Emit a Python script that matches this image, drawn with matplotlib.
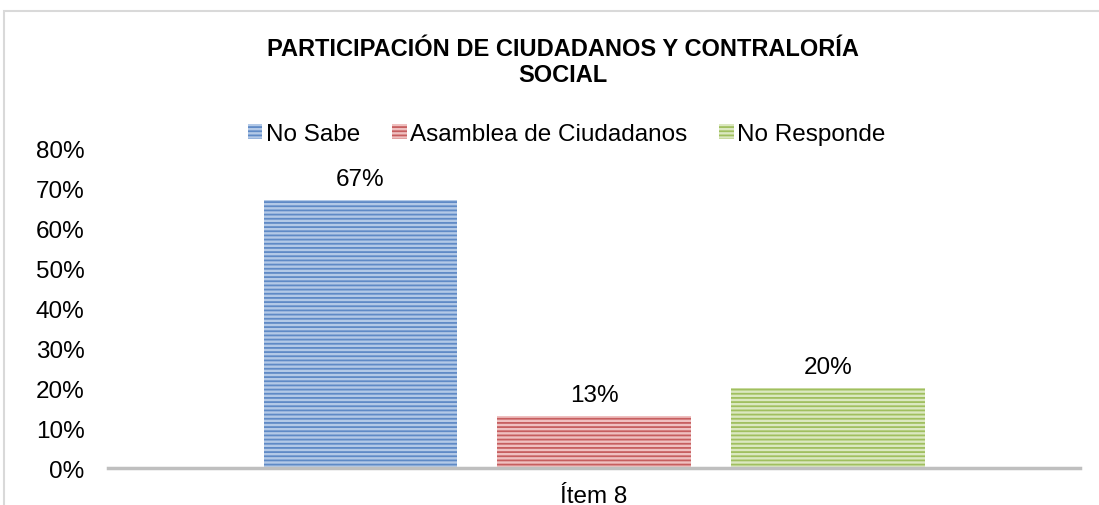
"""
participacion de ciudadanos y contraloria social - item 8
"""

import matplotlib
matplotlib.use("Agg")
import matplotlib.pyplot as plt
from matplotlib.patches import Rectangle

#data
series = ["No Sabe", "Asamblea de Ciudadanos", "No Responde"]
values = [67, 13, 20]
category = "Ítem 8"
yticks = [0, 10, 20, 30, 40, 50, 60, 70, 80]

#styles
faces = ["#b3c9e7", "#efc0c0", "#dbe8c0"]
hatches = ["#5f8ac6", "#c65e5f", "#a0bf5f"]

plt.rcParams['font.family'] = ['Liberation Sans', 'DejaVu Sans']
plt.rcParams['hatch.linewidth'] = 1.3

fig = plt.figure(figsize=(10.99, 5.06), dpi=100)
ax = fig.add_axes([0.0983, 0.0731, 0.8844, 0.6324])

#outer chart border (cropped)
fig.patches.append(Rectangle((4/1099, -0.1), 1.2, (506-12)/506+0.1,
                             transform=fig.transFigure, fill=False,
                             edgecolor="#d9d9d9", linewidth=1.5))

pos = [-1, 0, 1]
for i in range(len(series)):
    ax.bar(pos[i], values[i], width=0.825, facecolor=faces[i],
           edgecolor=hatches[i], linewidth=0, hatch='----', label=series[i])
    ax.annotate(str(values[i]) + "%", (pos[i], values[i]), xytext=(0, 7),
                textcoords="offset points", ha="center", va="bottom",
                fontsize=17.5, color="#000000")

ax.set_xlim(-2.077, 2.077)
ax.set_ylim(0, 80)
ax.set_yticks(yticks)
ax.set_yticklabels([str(t) + "%" for t in yticks], fontsize=17.5)
ax.set_xticks([0])
ax.set_xticklabels([category], fontsize=17.5)
ax.tick_params(axis='y', length=0, pad=17)
ax.tick_params(axis='x', length=0, pad=12)

for s in ["top", "right", "left"]:
    ax.spines[s].set_visible(False)
ax.spines["bottom"].set_color("#bfbfbf")
ax.spines["bottom"].set_linewidth(2.5)

leg = ax.legend(loc="center", bbox_to_anchor=(0.472, 1.044), ncol=3,
                frameon=False, fontsize=17.5, handlelength=0.6,
                handleheight=0.6, handletextpad=0.15, columnspacing=1.3)

fig.text(0.512, 0.877, "PARTICIPACIÓN DE CIUDADANOS Y CONTRALORÍA\nSOCIAL",
         ha="center", va="center", fontsize=17, fontweight="bold",
         linespacing=1.15)

fig.savefig("out.png", dpi=100)
